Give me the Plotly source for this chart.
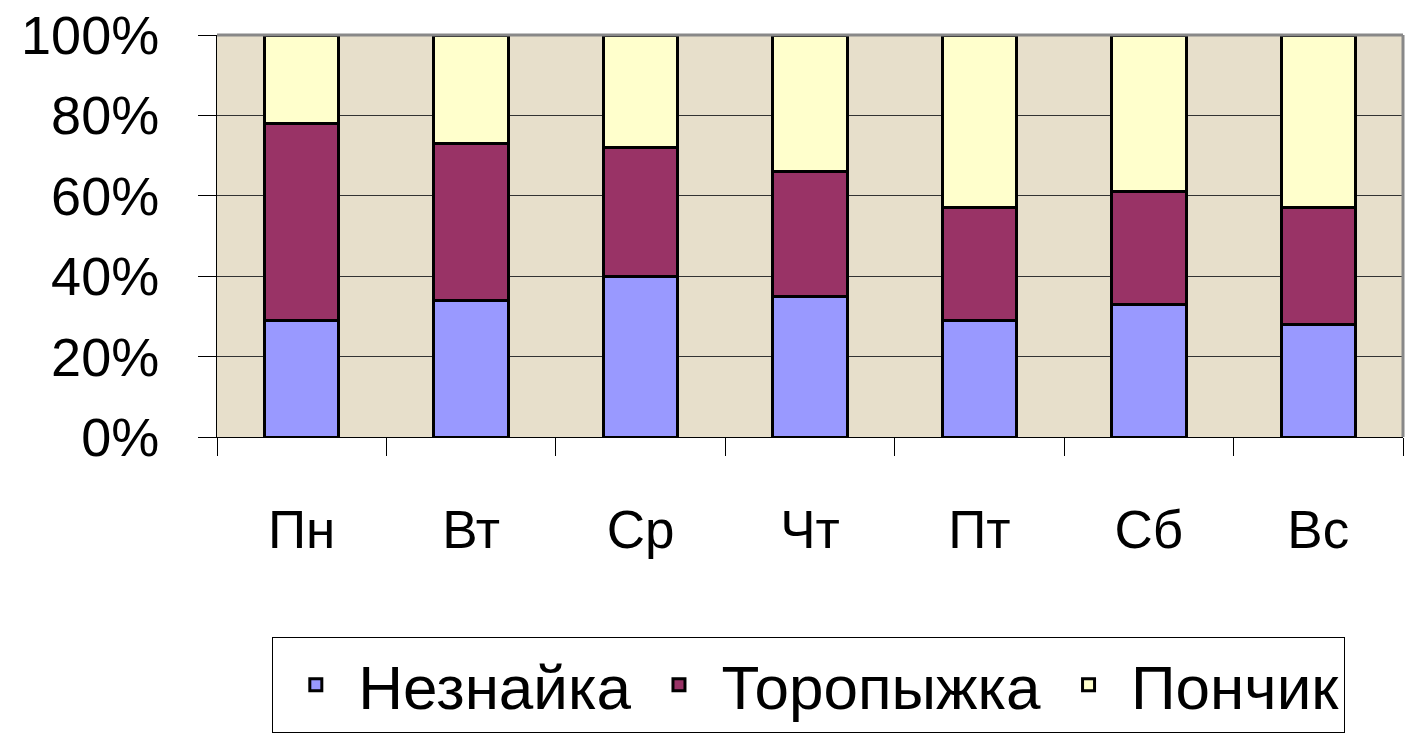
import plotly.graph_objects as go

days = ["Пн", "Вт", "Ср", "Чт", "Пт", "Сб", "Вс"]
neznayka = [29, 34, 40, 35, 29, 33, 28]
toropyzhka = [49, 39, 32, 31, 28, 28, 29]
ponchik = [22, 27, 28, 34, 43, 39, 43]
series_names = ["Незнайка", "Торопыжка", "Пончик"]
series_colors = ["#9999ff", "#993366", "#ffffcc"]
y_ticks = [0, 20, 40, 60, 80, 100]
y_tick_text = ["0%", "20%", "40%", "60%", "80%", "100%"]

fig = go.Figure()
for name, vals, col in zip(series_names, [neznayka, toropyzhka, ponchik], series_colors):
    fig.add_trace(go.Bar(
        x=days, y=vals, name=name,
        marker=dict(color=col, line=dict(color="black", width=3)),
    ))

font_family = "Liberation Sans, Arial, sans-serif"
fig.update_layout(
    barmode="stack",
    barnorm="percent",
    bargap=0.56,
    width=1406, height=743,
    margin=dict(l=217, r=3, t=35, b=306),
    paper_bgcolor="white",
    plot_bgcolor="#e7dfcb",
    font=dict(family=font_family, color="black"),
    showlegend=True,
    legend=dict(
        orientation="h",
        x=0.499, xanchor="center",
        y=-0.4975, yanchor="top",
        bordercolor="black", borderwidth=1,
        bgcolor="white",
        font=dict(family=font_family, size=62),
        itemwidth=75,
        traceorder="normal",
    ),
    xaxis=dict(
        automargin=False,
        showgrid=False,
        ticks="outside", tickson="boundaries", ticklen=18, tickcolor="black",
        tickfont=dict(size=53),
        ticklabelstandoff=46,
        showline=True, linecolor="black", linewidth=1,
    ),
    yaxis=dict(
        automargin=False,
        range=[0, 100],
        tickvals=y_ticks, ticktext=y_tick_text,
        tickfont=dict(size=54),
        ticks="outside", ticklen=18, tickcolor="black",
        ticklabelstandoff=28,
        ticklabeloverflow="allow",
        showgrid=True, gridcolor="#333333", gridwidth=1,
        showline=True, linecolor="black", linewidth=1,
        zeroline=False,
    ),
)
# frame on top and right (gray)
fig.add_shape(type="line", xref="paper", yref="paper", x0=0, x1=1, y0=1, y1=1,
              line=dict(color="#888888", width=3))
fig.add_shape(type="line", xref="paper", yref="paper", x0=1, x1=1, y0=0, y1=1,
              line=dict(color="#888888", width=3))

fig.write_html("out.html",
               config={"displayModeBar": False},
               post_script="document.body.style.margin='0';document.body.style.overflow='hidden';")
